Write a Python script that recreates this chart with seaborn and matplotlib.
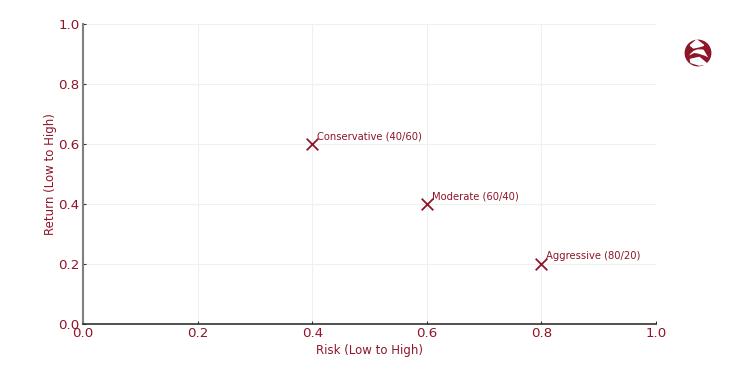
import matplotlib
matplotlib.use('Agg')
import matplotlib.pyplot as plt
from matplotlib.patches import Circle, Polygon, PathPatch
from matplotlib.path import Path
import pandas as pd
import seaborn as sns

risk = [0.4, 0.6, 0.8]
ret = [0.6, 0.4, 0.2]
labels = ['Conservative (40/60)', 'Moderate (60/40)', 'Aggressive (80/20)']
ticks = [0.0, 0.2, 0.4, 0.6, 0.8, 1.0]

red = '#8f1528'

sns.set_style('white')
plt.rcParams['font.family'] = ['DejaVu Sans']

df = pd.DataFrame({'risk': risk, 'ret': ret, 'label': labels})

W, H = 750, 375
fig = plt.figure(figsize=(7.5, 3.75), dpi=100)
ax = fig.add_axes([83 / W, 1 - 324 / H, (656 - 83) / W, (324 - 24) / H])

sns.scatterplot(data=df, x='risk', y='ret', marker='x', s=70, color=red,
                linewidth=1.3, ax=ax, zorder=3)
for i, row in df.iterrows():
    ax.annotate(row['label'], (row['risk'], row['ret']), xytext=(3.5, 3.4),
                textcoords='offset points', fontsize=7.2, color=red)

ax.set_xlim(0, 1)
ax.set_ylim(0, 1)
ax.set_xticks(ticks)
ax.set_yticks(ticks)
ax.set_xlabel('Risk (Low to High)', fontsize=8.5, color=red, labelpad=0)
ax.set_ylabel('Return (Low to High)', fontsize=8.5, color=red, labelpad=0)
ax.tick_params(axis='both', direction='in', colors='#333333', labelcolor=red,
               labelsize=9.6, length=2.5, width=0.8, bottom=True, left=True, pad=2.5)
ax.grid(True, color='#f0f0f0', linewidth=0.8, linestyle='-')
ax.set_axisbelow(True)
for s in ['top', 'right']:
    ax.spines[s].set_visible(False)
ax.spines['left'].set_color('#808080')
ax.spines['left'].set_linewidth(1.5)
ax.spines['bottom'].set_color('#333333')
ax.spines['bottom'].set_linewidth(1.2)
ax.xaxis.set_label_coords(0.5, -0.066)
ax.yaxis.set_label_coords(-0.045, 0.5)

# little logo in the corner
logo = fig.add_axes([684 / W, 1 - 67 / H, 28 / W, 28 / H])
logo.set_xlim(-1.1, 1.1)
logo.set_ylim(-1.1, 1.1)
logo.set_aspect('equal')
logo.axis('off')
logo.add_patch(Circle((0, 0), 1, color=red))
logo.add_patch(Polygon([(-0.6, 0.6), (-0.1, 1.02), (0.45, 0.6), (0.1, 0.5), (-0.35, 0.4)],
                       color='white'))
swoosh = Path([(-0.7, -0.2), (-0.3, 0.45), (0.45, 0.25), (0.8, -0.35),
               (0.3, -0.05), (-0.3, 0.0), (-0.7, -0.2)],
              [Path.MOVETO, Path.CURVE3, Path.CURVE3, Path.LINETO,
               Path.CURVE3, Path.CURVE3, Path.LINETO])
logo.add_patch(PathPatch(swoosh, fc='white', ec='none'))
logo.add_patch(Polygon([(-0.6, -0.5), (0.1, -0.35), (0.7, -0.85), (0.1, -0.95), (-0.55, -0.75)],
                       color='white'))

fig.savefig('out.png', dpi=100)
